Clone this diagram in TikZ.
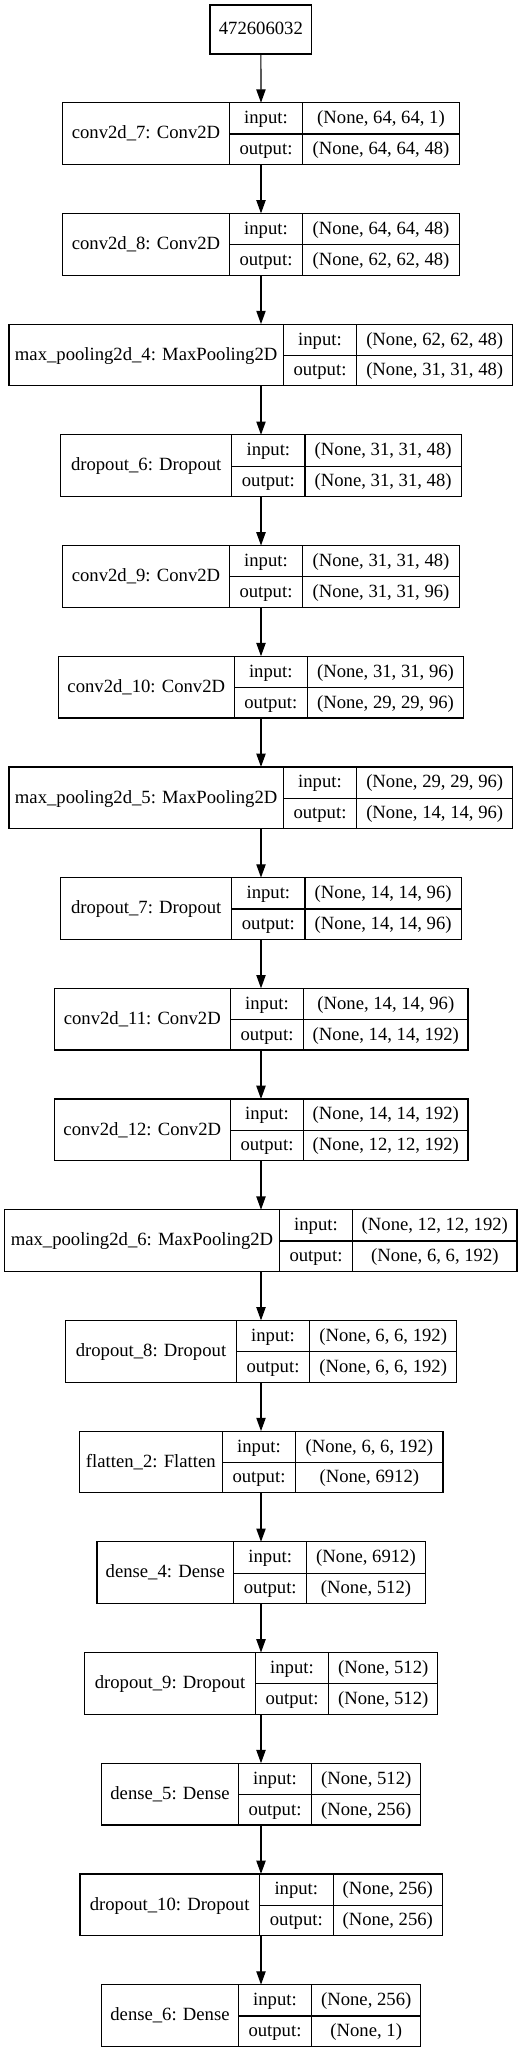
\documentclass[tikz,border=0pt]{standalone}
\usepackage{fontspec}
\setmainfont{Liberation Serif}
\usetikzlibrary{arrows.meta}
\tikzset{
  cell/.style={draw=black, line width=1.2pt, rectangle, inner sep=0pt, outer sep=0pt,
    text height=13pt, text depth=2.4pt, align=center,
    font=\fontsize{18.67}{22}\selectfont},
  anchorbox/.style={rectangle, inner sep=0pt, outer sep=0pt, minimum width=4pt},
  arr/.style={line width=1.2pt, -{Triangle[length=13.3pt,width=9.3pt]}}
}
\newcommand\kerasrow[8]{%
  \pgfmathsetmacro\rowtop{102.7+110.7*#1}%
  \pgfmathsetmacro\rowmid{\rowtop+30.85}%
  \pgfmathsetmacro\rowa{\rowtop+15.65}%
  \pgfmathsetmacro\rowb{\rowtop+46.5}%
  \node[cell, minimum width={#3-#2}, minimum height=61.7] (lab#1) at ({(#2+#3)/2},\rowmid) {#6};
  \node[cell, minimum width={#4-#3}, minimum height=31.3] (ik#1) at ({(#3+#4)/2},\rowa) {input:};
  \node[cell, minimum width={#4-#3}, minimum height=30.4] (ok#1) at ({(#3+#4)/2},\rowb) {output:};
  \node[cell, minimum width={#5-#4}, minimum height=31.3] (iv#1) at ({(#4+#5)/2},\rowa) {#7};
  \node[cell, minimum width={#5-#4}, minimum height=30.4] (ov#1) at ({(#4+#5)/2},\rowb) {#8};
  \node[anchorbox, minimum height=61.7] (l#1) at (261,\rowmid) {};
}
\begin{document}
\begin{tikzpicture}[x=1pt, y=-1pt]
\useasboundingbox (0,0) rectangle (531,2052);
\node[cell, minimum width=101.7, minimum height=49] (top) at (260.85,29.5) {472606032};
\kerasrow{0}{62.7}{229.3}{302.7}{459.3}{conv2d\_7: Conv2D}{(None, 64, 64, 1)}{(None, 64, 64, 48)}
\kerasrow{1}{62.7}{229.3}{302.7}{459.3}{conv2d\_8: Conv2D}{(None, 64, 64, 48)}{(None, 62, 62, 48)}
\kerasrow{2}{9}{283.3}{356.7}{512.7}{max\_pooling2d\_4: MaxPooling2D}{(None, 62, 62, 48)}{(None, 31, 31, 48)}
\kerasrow{3}{60.7}{231.7}{305}{461.3}{dropout\_6: Dropout}{(None, 31, 31, 48)}{(None, 31, 31, 48)}
\kerasrow{4}{62.7}{229.3}{302.7}{459.3}{conv2d\_9: Conv2D}{(None, 31, 31, 48)}{(None, 31, 31, 96)}
\kerasrow{5}{58.3}{234.3}{307.3}{463.7}{conv2d\_10: Conv2D}{(None, 31, 31, 96)}{(None, 29, 29, 96)}
\kerasrow{6}{9}{283.3}{356.7}{512.7}{max\_pooling2d\_5: MaxPooling2D}{(None, 29, 29, 96)}{(None, 14, 14, 96)}
\kerasrow{7}{60.7}{231.7}{305}{461.3}{dropout\_7: Dropout}{(None, 14, 14, 96)}{(None, 14, 14, 96)}
\kerasrow{8}{54.3}{230.3}{303.7}{468}{conv2d\_11: Conv2D}{(None, 14, 14, 96)}{(None, 14, 14, 192)}
\kerasrow{9}{54.3}{230.3}{303.7}{468}{conv2d\_12: Conv2D}{(None, 14, 14, 192)}{(None, 12, 12, 192)}
\kerasrow{10}{4.7}{279.3}{352.7}{517}{max\_pooling2d\_6: MaxPooling2D}{(None, 12, 12, 192)}{(None, 6, 6, 192)}
\kerasrow{11}{65.7}{236.3}{309.7}{456.7}{dropout\_8: Dropout}{(None, 6, 6, 192)}{(None, 6, 6, 192)}
\kerasrow{12}{79.3}{222.3}{295.7}{443}{flatten\_2: Flatten}{(None, 6, 6, 192)}{(None, 6912)}
\kerasrow{13}{97}{233.7}{306.7}{425.3}{dense\_4: Dense}{(None, 6912)}{(None, 512)}
\kerasrow{14}{84.7}{255.3}{328.7}{437.7}{dropout\_9: Dropout}{(None, 512)}{(None, 512)}
\kerasrow{15}{101.7}{238.3}{311.7}{420.7}{dense\_5: Dense}{(None, 512)}{(None, 256)}
\kerasrow{16}{80}{259.3}{333.3}{442.3}{dropout\_10: Dropout}{(None, 256)}{(None, 256)}
\kerasrow{17}{101.7}{238.3}{311.7}{420.7}{dense\_6: Dense}{(None, 256)}{(None, 1)}
\draw[arr] (top.south) -- (l0.north);
\foreach \i [evaluate=\i as \j using int(\i+1)] in {0,...,16} {
  \draw[arr] (l\i.south) -- (l\j.north);
}
\end{tikzpicture}
\end{document}
